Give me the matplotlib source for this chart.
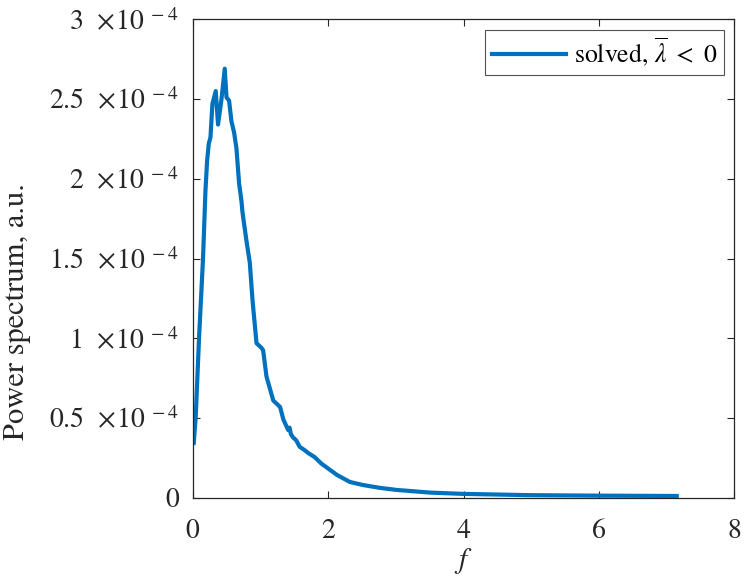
import numpy as np
import matplotlib
matplotlib.use('Agg')
import matplotlib.pyplot as plt

plt.rcParams['font.family'] = ['STIXGeneral', 'DejaVu Serif']
plt.rcParams['mathtext.fontset'] = 'stix'

# =============================================================================
# Data, power in units of 1e-4
# =============================================================================

freq = [0.015, 0.044, 0.093, 0.152, 0.188, 0.212, 0.237, 0.262, 0.291, 0.340,
        0.374, 0.425, 0.473, 0.499, 0.537, 0.572, 0.611, 0.646, 0.685, 0.720,
        0.735, 0.794, 0.843, 0.883, 0.942, 1.016, 1.040, 1.090, 1.190, 1.290,
        1.340, 1.410, 1.430, 1.450, 1.480, 1.530, 1.580, 1.650, 1.710, 1.800,
        1.900, 2.030, 2.130, 2.320, 2.510, 2.770, 3.010, 3.510, 4.000, 4.990,
        6.000, 7.150]
power = [0.344, 0.506, 1.000, 1.500, 1.925, 2.110, 2.220, 2.260, 2.470, 2.550,
         2.340, 2.500, 2.690, 2.510, 2.490, 2.360, 2.290, 2.190, 1.970, 1.860,
         1.790, 1.610, 1.475, 1.240, 0.970, 0.940, 0.925, 0.760, 0.610, 0.570,
         0.490, 0.425, 0.440, 0.400, 0.380, 0.360, 0.320, 0.300, 0.280, 0.256,
         0.215, 0.175, 0.144, 0.100, 0.081, 0.0625, 0.050, 0.033, 0.025, 0.017,
         0.014, 0.012]

yticks = [0, 0.5, 1, 1.5, 2, 2.5, 3]
ytick_labels = ['0'] + [r'$%s\ \,\times\!10^{\ -4}$' % t for t in ['0.5', '1', '1.5', '2', '2.5', '3']]
xticks = [0, 2, 4, 6, 8]

# =============================================================================
# Plot
# =============================================================================

fig = plt.figure(figsize=(7.47, 5.83), dpi=100)
ax = fig.add_axes([0.258, 0.146, 0.725, 0.821])

ax.plot(np.array(freq), np.array(power) * 1e-4, c='#0072BD', lw=3,
        label=r'solved, $\overline{\lambda}\ <\ 0$')

ax.set_xlim(0, 8)
ax.set_ylim(0, 3e-4)
ax.set_xticks(xticks)
ax.set_xticklabels([str(t) for t in xticks])
ax.set_yticks([t * 1e-4 for t in yticks])
ax.set_yticklabels(ytick_labels)

ax.tick_params(direction='in', top=True, right=True, length=5, width=0.8,
               color='#262626', labelsize=20, labelcolor='#262626')
ax.tick_params(axis='x', pad=15)
ax.tick_params(axis='y', pad=10)
for s in ax.spines.values():
    s.set_color('#262626')
    s.set_linewidth(0.9)

ax.set_xlabel(r'$f$', fontsize=21, color='#262626')
ax.xaxis.set_label_coords(0.5, -0.1)
ax.set_ylabel('Power spectrum, a.u.', fontsize=22, color='#262626')
ax.yaxis.set_label_coords(-0.298, 0.39)

leg = ax.legend(loc='upper right', fontsize=18.5, frameon=True, fancybox=False,
                edgecolor='#262626', handlelength=2.9, borderpad=0.25,
                handletextpad=0.3, borderaxespad=0.4)
leg.get_frame().set_linewidth(0.8)

plt.savefig('out.png', dpi=100)
